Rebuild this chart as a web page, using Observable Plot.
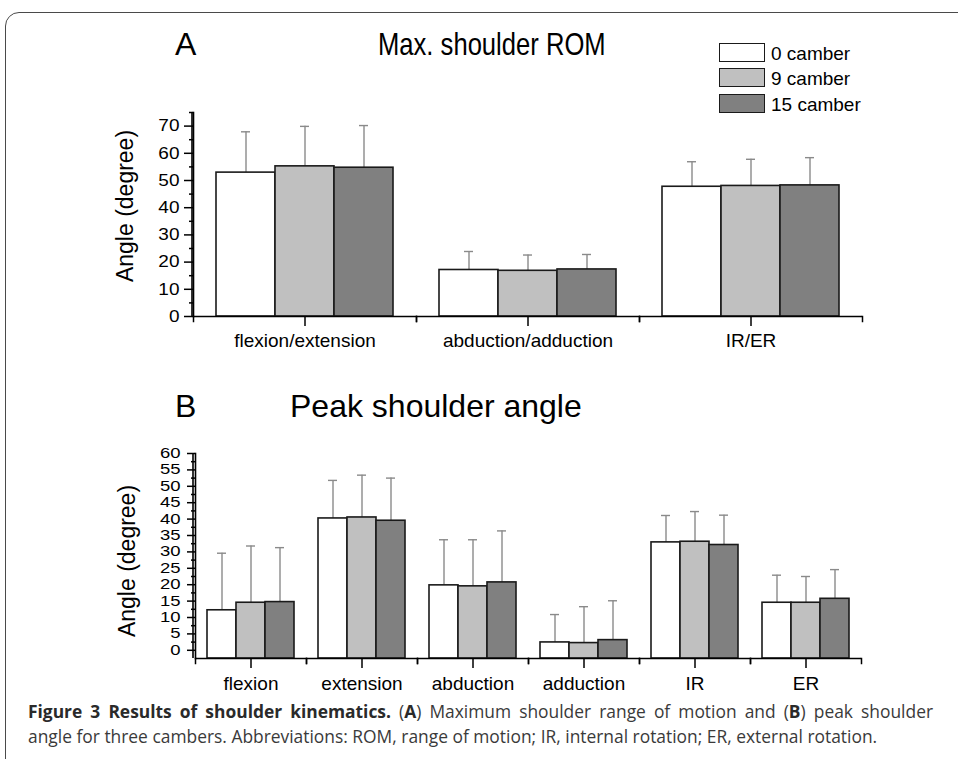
<!DOCTYPE html>
<html>
<head>
<meta charset="utf-8">
<script src="https://cdn.jsdelivr.net/npm/d3@7"></script>
<script src="https://cdn.jsdelivr.net/npm/@observablehq/plot@0.6"></script>
<style>
  html, body { margin: 0; padding: 0; background: #fff; }
  body { width: 958px; height: 759px; position: relative; overflow: hidden; font-family: "Liberation Sans", Arial, sans-serif; }
  .abs { position: absolute; white-space: nowrap; }
  .frame { position: absolute; left: 5px; top: 12px; width: 1000px; height: 900px; border: 1.5px solid #4a4a4a; border-radius: 14px; }
  .title { font-size: 32px; color: #000; line-height: 1; }
  .ylab { font-size: 23px; color: #000; transform: translate(-50%, -50%) rotate(-90deg); }
  .leg-box { position: absolute; width: 44px; height: 17px; border: 1.5px solid #1a1a1a; }
  .leg-text { font-size: 19px; line-height: 1; }
  .caption { font-family: "Open Sans", sans-serif; font-size: 17.4px; color: #3a3a3a; line-height: 1; }
  .caption b { color: #2a2a2a; }
  .justify { width: 905px; text-align: justify; text-align-last: justify; white-space: normal; }
  svg.plot { position: absolute; overflow: visible; }
</style>
</head>
<body>
<div class="frame"></div>
<div id="root"></div>
<script>
// ---- data ----
const cambers = ["0 camber", "9 camber", "15 camber"];
const camberColors = ["#ffffff", "#c0c0c0", "#808080"];

// Panel A: Max. shoulder ROM
const romCategories = ["flexion/extension", "abduction/adduction", "IR/ER"];
const romMean0  = [52.9, 17.1, 47.7];
const romMean9  = [55.2, 16.8, 48.0];
const romMean15 = [54.7, 17.3, 48.2];
const romSd0  = [15.0, 6.8, 9.2];
const romSd9  = [14.7, 5.8, 9.8];
const romSd15 = [15.5, 5.5, 10.2];
const romTicks = [0, 10, 20, 30, 40, 50, 60, 70];
const romMinorTicks = [5, 15, 25, 35, 45, 55, 65, 75];
const romDomain = [0, 75];

// Panel B: Peak shoulder angle
const peakCategories = ["flexion", "extension", "abduction", "adduction", "IR", "ER"];
const peakMean0  = [12.2, 40.2, 19.8, 2.4, 32.9, 14.5];
const peakMean9  = [14.5, 40.5, 19.5, 2.2, 33.1, 14.5];
const peakMean15 = [14.7, 39.5, 20.7, 3.1, 32.1, 15.7];
const peakSd0  = [17.4, 11.6, 13.9, 8.5, 8.2, 8.4];
const peakSd9  = [17.3, 12.9, 14.2, 11.1, 9.2, 8.0];
const peakSd15 = [16.6, 13.0, 15.7, 12.0, 9.1, 8.9];
const peakTicks = [0, 5, 10, 15, 20, 25, 30, 35, 40, 45, 50, 55, 60];
const peakMinorTicks = [2.5, 7.5, 12.5, 17.5, 22.5, 27.5, 32.5, 37.5, 42.5, 47.5, 52.5, 57.5];
const peakDomain = [-2.5, 60];

function rows(cats, means, sds) {
  const out = [];
  cats.forEach((c, i) => cambers.forEach((k, j) => out.push({cat: c, camber: k, mean: means[j][i], sd: sds[j][i]})));
  return out;
}
const romRows = rows(romCategories, [romMean0, romMean9, romMean15], [romSd0, romSd9, romSd15]);
const peakRows = rows(peakCategories, [peakMean0, peakMean9, peakMean15], [peakSd0, peakSd9, peakSd15]);

function panel({data, cats, domain, ticks, minor, top, height, marginTop, marginBottom, marginLeft, marginRight, capInset, yTickSize, yTickPadding, xTickPadding, yFont, ySquash}) {
  const plotH = height - marginTop - marginBottom;
  const base = domain[0];
  const svg = Plot.plot({
    width: 958, height, marginTop, marginBottom, marginLeft, marginRight,
    style: {fontFamily: '"Liberation Sans", Arial, sans-serif', fontSize: "19px", color: "#000", background: "transparent", overflow: "visible"},
    facet: {data, x: "cat"},
    fx: {domain: cats, padding: 0, label: null},
    x: {domain: cambers, paddingInner: 0, paddingOuter: 0.38, axis: null},
    y: {domain, label: null},
    color: {domain: cambers, range: camberColors},
    marks: [
      Plot.axisFx({anchor: "bottom", tickSize: 10, tickPadding: xTickPadding, label: null, fontSize: 19, strokeWidth: 1.5}),
      Plot.axisY({ticks, tickSize: yTickSize, tickPadding: yTickPadding, label: null, fontSize: yFont, strokeWidth: 1.5}),
      Plot.axisY({ticks: minor, tickSize: 4, tickFormat: () => "", label: null, strokeWidth: 1.5}),
      Plot.frame({anchor: "left", facetAnchor: "left", strokeWidth: 1.6}),
      Plot.frame({anchor: "left", insetTop: plotH, insetBottom: -5, strokeWidth: 1.5}),
      Plot.frame({anchor: "right", insetTop: plotH, insetBottom: -5, strokeWidth: 1.5}),
      Plot.ruleX(data, {x: "camber", y1: "mean", y2: d => d.mean + d.sd, stroke: "#8a8a8a", strokeWidth: 1.4}),
      Plot.tickY(data, {x: "camber", y: d => d.mean + d.sd, insetLeft: capInset, insetRight: capInset, stroke: "#8a8a8a", strokeWidth: 1.4}),
      Plot.barY(data, {x: "camber", y1: () => base, y2: "mean", fill: "camber", stroke: "#1a1a1a", strokeWidth: 1.6}),
      Plot.ruleY([base], {stroke: "#000", strokeWidth: 1.6})
    ]
  });
  svg.classList.add("plot");
  svg.style.left = "0px";
  svg.style.top = top + "px";
  // y-axis spine drawn from the plot's own y scale
  const ys = svg.scale("y");
  d3.select(svg).append("line")
    .attr("x1", marginLeft).attr("x2", marginLeft)
    .attr("y1", ys.range[0]).attr("y2", ys.range[1])
    .attr("stroke", "#000").attr("stroke-width", 1.6);
  // squash y tick labels vertically (as in the reference) by extending the SVG transform attribute
  svg.querySelectorAll('[aria-label="y-axis tick label"] text').forEach(t => {
    const tr = t.getAttribute("transform");
    if (tr) {
      t.setAttribute("transform", tr + ` scale(1,${ySquash})`);
    } else {
      const x = +t.getAttribute("x") || 0, y = +t.getAttribute("y") || 0;
      t.setAttribute("transform", `translate(${x},${y}) scale(1,${ySquash}) translate(${-x},${-y})`);
    }
  });
  return svg;
}

const root = document.getElementById("root");
root.appendChild(panel({data: romRows, cats: romCategories, domain: romDomain, ticks: romTicks, minor: romMinorTicks,
  top: 80, height: 280, marginTop: 32, marginBottom: 44, marginLeft: 192, marginRight: 95, capInset: 25, yTickSize: 9, yTickPadding: 5, xTickPadding: 7, yFont: 19, ySquash: 0.86}));
root.appendChild(panel({data: peakRows, cats: peakCategories, domain: peakDomain, ticks: peakTicks, minor: peakMinorTicks,
  top: 430, height: 270, marginTop: 23, marginBottom: 42, marginLeft: 193, marginRight: 95, capInset: 10, yTickSize: 8, yTickPadding: 7, xTickPadding: 8, yFont: 18.5, ySquash: 0.76}));

// ---- text ----
function addDiv(cls, html, css) {
  const d = document.createElement("div");
  d.className = "abs " + cls;
  d.innerHTML = html;
  Object.assign(d.style, css);
  document.body.appendChild(d);
  return d;
}
addDiv("title", "A", {left: "175px", top: "28px"});
addDiv("title", "Max. shoulder ROM", {left: "378px", top: "28px", transform: "scaleX(0.8)", transformOrigin: "left center"});
addDiv("title", "B", {left: "175px", top: "390px"});
addDiv("title", "Peak shoulder angle", {left: "290px", top: "390px"});
addDiv("ylab", "Angle (degree)", {left: "125px", top: "206px"});
addDiv("ylab", "Angle (degree)", {left: "127px", top: "561px"});

const legendTops = [43, 68, 94];
cambers.forEach((c, i) => {
  const b = document.createElement("div");
  b.className = "leg-box";
  b.style.left = "719px";
  b.style.top = legendTops[i] + "px";
  b.style.background = camberColors[i];
  document.body.appendChild(b);
  addDiv("leg-text", c, {left: "771px", top: (legendTops[i] + 1) + "px"});
});

addDiv("caption justify", "<b>Figure 3 Results of shoulder kinematics.</b> (<b>A</b>) Maximum shoulder range of motion and (<b>B</b>) peak shoulder", {left: "28px", top: "703px"});
addDiv("caption", "angle for three cambers. Abbreviations: ROM, range of motion; IR, internal rotation; ER, external rotation.", {left: "28px", top: "728px"});
</script>
</body>
</html>
